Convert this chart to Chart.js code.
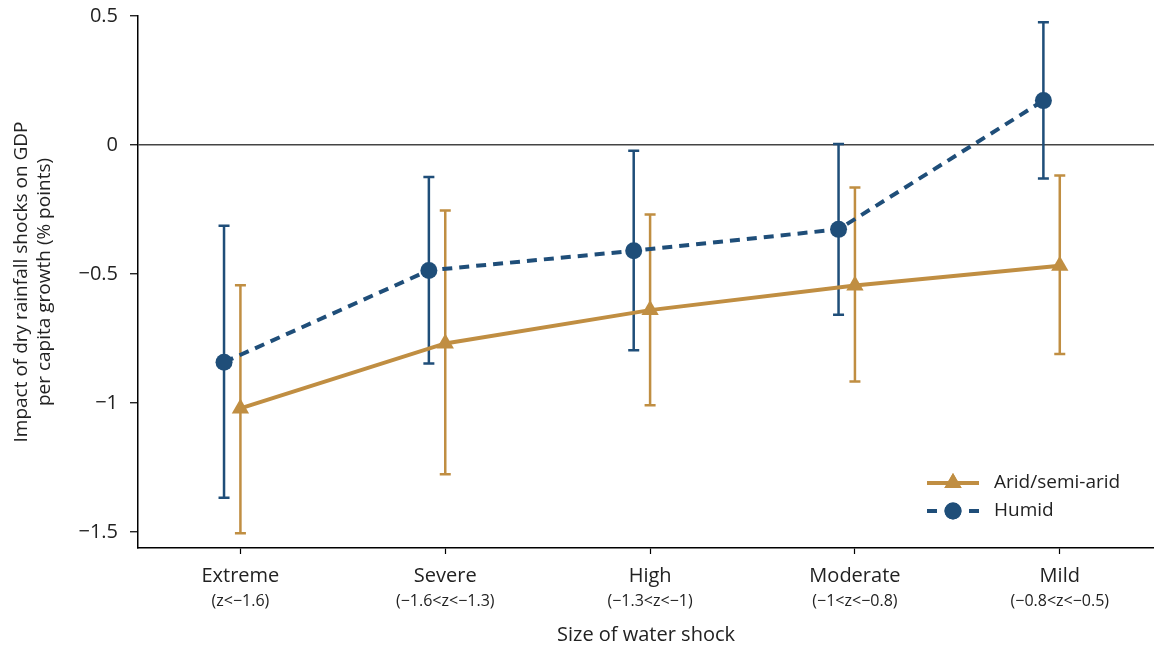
<!DOCTYPE html>
<html>
<head>
<meta charset="utf-8">
<script src="https://cdn.jsdelivr.net/npm/chart.js@4.4.1/dist/chart.umd.min.js"></script>
<style>
  html, body { margin: 0; padding: 0; background: #fff; }
  #wrap { width: 1154px; height: 647px; }
</style>
</head>
<body>
<div id="wrap"><canvas id="chart" width="1154" height="647"></canvas></div>
<script>
// categories de choc et leurs intervalles de z
const categories = ['Extreme', 'Severe', 'High', 'Moderate', 'Mild'];
const ranges = ['(z<\u22121.6)', '(\u22121.6<z<\u22121.3)', '(\u22121.3<z<\u22121)', '(\u22121<z<\u22120.8)', '(\u22120.8<z<\u22120.5)'];
const categoryPos = [1, 2, 3, 4, 5];
const humidShift = -0.08;

// Humide : estimation + intervalle de confiance
const humidEst  = [-0.842, -0.486, -0.410, -0.327, 0.172];
const humidLow  = [-1.367, -0.847, -0.796, -0.658, -0.130];
const humidHigh = [-0.313, -0.124, -0.022, 0.004, 0.476];

// Aride / semi-aride
const aridEst  = [-1.021, -0.769, -0.640, -0.545, -0.468];
const aridLow  = [-1.505, -1.276, -1.009, -0.917, -0.810];
const aridHigh = [-0.544, -0.254, -0.269, -0.165, -0.118];

const yTicks = [-1.5, -1, -0.5, 0, 0.5];

const BLUE = '#1f4e79';
const GOLD = '#c08e42';
const FONT = '"Open Sans", "DejaVu Sans", sans-serif';

// ---------------------------
// barres d'erreur dessinées avec les échelles du graphique
const errorBars = {
  id: 'errorBars',
  beforeDatasetsDraw(chart) {
    const ctx = chart.ctx;
    const xs = chart.scales.x, ys = chart.scales.y;
    const series = [
      { color: BLUE, shift: humidShift, lo: humidLow, hi: humidHigh },
      { color: GOLD, shift: 0, lo: aridLow, hi: aridHigh }
    ];
    ctx.save();
    series.forEach(s => {
      ctx.strokeStyle = s.color;
      ctx.lineWidth = 2.5;
      categoryPos.forEach((c, i) => {
        const x = xs.getPixelForValue(c + s.shift);
        const y1 = ys.getPixelForValue(s.lo[i]);
        const y2 = ys.getPixelForValue(s.hi[i]);
        ctx.beginPath();
        ctx.moveTo(x, y1); ctx.lineTo(x, y2);
        ctx.moveTo(x - 5.5, y1); ctx.lineTo(x + 5.5, y1);
        ctx.moveTo(x - 5.5, y2); ctx.lineTo(x + 5.5, y2);
        ctx.stroke();
      });
    });
    ctx.restore();
  }
};

// sous-titres des catégories + légende dans la zone du graphique
const extras = {
  id: 'extras',
  afterDraw(chart) {
    const ctx = chart.ctx;
    const xs = chart.scales.x;
    ctx.save();
    ctx.fillStyle = '#222';
    ctx.font = '16px ' + FONT;
    ctx.textAlign = 'center';
    ctx.textBaseline = 'middle';
    categoryPos.forEach((c, i) => {
      ctx.fillText(ranges[i], xs.getPixelForValue(c), 601);
    });

    // légende
    const items = [
      { label: 'Arid/semi-arid', color: GOLD, dash: false, style: 'triangle', r: 10 },
      { label: 'Humid', color: BLUE, dash: true, style: 'circle', r: 8.5 }
    ];
    items.forEach((it, k) => {
      const y = 483 + k * 28;
      ctx.strokeStyle = it.color;
      ctx.lineWidth = 4;
      ctx.beginPath();
      if (it.dash) {
        ctx.moveTo(927, y); ctx.lineTo(937, y);
        ctx.moveTo(969, y); ctx.lineTo(979, y);
      } else {
        ctx.moveTo(927, y); ctx.lineTo(979, y);
      }
      ctx.stroke();
      ctx.fillStyle = it.color;
      Chart.helpers.drawPoint(ctx, { pointStyle: it.style, radius: it.r, borderWidth: 0 }, 953, y);
      ctx.fill();
      ctx.fillStyle = '#222';
      ctx.font = '19px ' + FONT;
      ctx.textAlign = 'left';
      ctx.fillText(it.label, 994, y);
    });
    ctx.restore();
  }
};

new Chart(document.getElementById('chart').getContext('2d'), {
  type: 'line',
  data: {
    datasets: [
      {
        label: 'Humid',
        data: categoryPos.map((c, i) => ({ x: c + humidShift, y: humidEst[i] })),
        borderColor: BLUE,
        backgroundColor: BLUE,
        borderWidth: 4,
        borderDash: [10, 7],
        pointStyle: 'circle',
        pointRadius: 8.5,
        pointBorderWidth: 0,
        tension: 0
      },
      {
        label: 'Arid/semi-arid',
        data: categoryPos.map((c, i) => ({ x: c, y: aridEst[i] })),
        borderColor: GOLD,
        backgroundColor: GOLD,
        borderWidth: 4,
        pointStyle: 'triangle',
        pointRadius: 10,
        pointBorderWidth: 0,
        tension: 0
      }
    ]
  },
  options: {
    responsive: false,
    animation: false,
    devicePixelRatio: 1,
    layout: { autoPadding: false, padding: { top: 16, right: 0, left: 0, bottom: 0 } },
    plugins: {
      legend: { display: false },
      tooltip: { enabled: false }
    },
    scales: {
      x: {
        type: 'linear',
        min: 0.5,
        max: 5.46,
        afterBuildTicks: s => { s.ticks = categoryPos.map(v => ({ value: v })); },
        afterFit: s => { s.height = 99; s.paddingLeft = 0; s.paddingRight = 0; },
        grid: { drawOnChartArea: false, drawTicks: true, tickLength: 6, tickColor: '#000', tickWidth: 1.2 },
        border: { display: true, color: '#000', width: 1.5 },
        ticks: {
          autoSkip: false,
          maxRotation: 0,
          padding: 10,
          color: '#222',
          font: { family: FONT, size: 20 },
          callback: (v, i) => categories[i]
        },
        title: {
          display: true,
          text: 'Size of water shock',
          color: '#222',
          font: { family: FONT, size: 20 },
          padding: { top: 0, bottom: 0 }
        }
      },
      y: {
        min: -1.562,
        max: 0.5,
        afterBuildTicks: s => { s.ticks = yTicks.map(v => ({ value: v })); },
        afterFit: s => { s.width = 138; s.paddingTop = 0; s.paddingBottom = 0; },
        grid: {
          drawOnChartArea: true,
          color: c => (c.tick && c.tick.value === 0) ? '#444' : 'rgba(0,0,0,0)',
          lineWidth: 1.5,
          tickColor: '#000',
          tickLength: 8,
          tickWidth: 1.2
        },
        border: { display: true, color: '#000', width: 1.5 },
        ticks: {
          padding: 12,
          color: '#222',
          font: { family: FONT, size: 20 },
          callback: v => v < 0 ? '\u2212' + Math.abs(v) : String(v)
        },
        title: {
          display: true,
          text: ['Impact of dry rainfall shocks on GDP', 'per capita growth (% points)'],
          color: '#222',
          font: { family: FONT, size: 19, lineHeight: 1.2 },
          padding: { top: 10, bottom: 0 }
        }
      }
    }
  },
  plugins: [errorBars, extras]
});
</script>
</body>
</html>
